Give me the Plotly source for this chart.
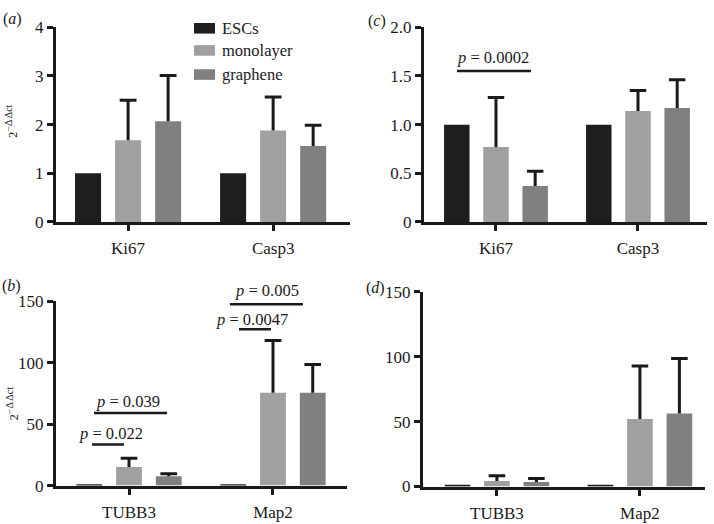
import plotly.graph_objects as go

W, H = 714, 524
FONT = "Liberation Serif"
INK = "#1a1a1a"

series_names = ["ESCs", "monolayer", "graphene"]
colors = ["#1e1e1e", "#a0a0a0", "#808080"]

cats_top = ["Ki67", "Casp3"]
cats_bottom = ["TUBB3", "Map2"]

# panel (a)
a_esc = [1.0, 1.0]
a_mono = [1.68, 1.88]
a_graph = [2.07, 1.56]
a_mono_err = [0.82, 0.69]
a_graph_err = [0.94, 0.43]

# panel (c)
c_esc = [1.0, 1.0]
c_mono = [0.77, 1.14]
c_graph = [0.37, 1.17]
c_mono_err = [0.51, 0.21]
c_graph_err = [0.15, 0.29]

# panel (b)
b_esc = [1.0, 1.0]
b_mono = [15.1, 75.6]
b_graph = [7.6, 75.6]
b_mono_err = [7.1, 42.4]
b_graph_err = [2.0, 23.0]

# panel (d)
d_esc = [1.0, 1.0]
d_mono = [4.2, 51.9]
d_graph = [3.5, 56.3]
d_mono_err = [4.2, 40.8]
d_graph_err = [2.7, 42.3]

BARGAP = 0.172
BARGROUPGAP = 0.35
SLOT = (1 - BARGAP) / 3.0
CAP = 0.058


def px(x):
    return x / W


def py(y):
    return 1 - y / H


fig = go.Figure()

panels = [
    ("", cats_top, [a_esc, a_mono, a_graph], [None, a_mono_err, a_graph_err]),
    ("2", cats_top, [c_esc, c_mono, c_graph], [None, c_mono_err, c_graph_err]),
    ("3", cats_bottom, [b_esc, b_mono, b_graph], [None, b_mono_err, b_graph_err]),
    ("4", cats_bottom, [d_esc, d_mono, d_graph], [None, d_mono_err, d_graph_err]),
]

for suf, cats, vals, errs in panels:
    idx = list(range(len(cats)))
    for i in range(3):
        fig.add_trace(go.Bar(
            x=idx, y=vals[i], name=series_names[i],
            marker=dict(color=colors[i], line=dict(width=0)),
            showlegend=False, xaxis="x" + suf, yaxis="y" + suf,
        ))
    # upper-only error bars with caps
    for i in range(3):
        if errs[i] is None:
            continue
        ex, ey = [], []
        for k in idx:
            xc = k + (i - 1) * SLOT
            top = vals[i][k] + errs[i][k]
            ex += [xc, xc, None, xc - CAP, xc + CAP, None]
            ey += [vals[i][k], top, None, top, top, None]
        fig.add_trace(go.Scatter(
            x=ex, y=ey, mode="lines", line=dict(color=INK, width=3),
            showlegend=False, hoverinfo="skip", xaxis="x" + suf, yaxis="y" + suf,
        ))

axis_common = dict(showline=True, linewidth=3, linecolor=INK,
                   ticks="outside", ticklen=6, tickwidth=2.5, tickcolor=INK,
                   showgrid=False, zeroline=False,
                   tickfont=dict(family=FONT, size=17, color=INK))
xaxis_extra = dict(ticklabelstandoff=3)


def xdom(l, r):
    return [px(l), px(r)]


def ydom(t, b):
    return [py(b), py(t)]


fig.update_layout(
    width=W, height=H,
    margin=dict(l=0, r=0, t=0, b=0),
    plot_bgcolor="white", paper_bgcolor="white",
    barmode="group", bargap=BARGAP, bargroupgap=BARGROUPGAP,
    font=dict(family=FONT, size=15, color=INK),
    xaxis=dict(domain=xdom(56, 350), range=[-0.497, 1.53], anchor="y",
               tickvals=[0, 1], ticktext=cats_top, **axis_common, **xaxis_extra),
    yaxis=dict(domain=ydom(19, 221), range=[0, 4], tickvals=[0, 1, 2, 3, 4],
               anchor="x", **axis_common),
    xaxis2=dict(domain=xdom(424, 707), range=[-0.507, 1.486], anchor="y2",
                tickvals=[0, 1], ticktext=cats_top, **axis_common, **xaxis_extra),
    yaxis2=dict(domain=ydom(19, 221), range=[0, 2], tickvals=[0, 0.5, 1, 1.5, 2],
                ticktext=["0", "0.5", "1.0", "1.5", "2.0"], anchor="x2", **axis_common),
    xaxis3=dict(domain=xdom(56, 347), range=[-0.507, 1.514], anchor="y3",
                tickvals=[0, 1], ticktext=cats_bottom, **axis_common, **xaxis_extra),
    yaxis3=dict(domain=ydom(303.3, 494.5), range=[0, 150], tickvals=[0, 50, 100, 150],
                anchor="x3", **axis_common),
    xaxis4=dict(domain=xdom(423, 705), range=[-0.517, 1.455], anchor="y4",
                tickvals=[0, 1], ticktext=cats_bottom, **axis_common, **xaxis_extra),
    yaxis4=dict(domain=ydom(293.3, 495.5), range=[0, 150], tickvals=[0, 50, 100, 150],
                anchor="x4", **axis_common),
)

shapes = []
annotations = []

# legend (drawn manually to match the boxed swatches)
leg_y = [20, 43, 68]
for i, name in enumerate(series_names):
    shapes.append(dict(type="rect", xref="paper", yref="paper",
                       x0=px(194), x1=px(215), y0=py(leg_y[i] + 5.5), y1=py(leg_y[i] - 5.5),
                       fillcolor=colors[i], line=dict(width=0)))
    annotations.append(dict(xref="paper", yref="paper", x=px(220), y=py(leg_y[i]),
                            text=name, showarrow=False, xanchor="left", yanchor="middle",
                            font=dict(family=FONT, size=16.5, color=INK)))

# significance lines (data coords) and their labels (pixel positions)
sig_lines = [
    ("x2", "y2", -0.275, 0.246, 1.55),
    ("x3", "y3", -0.257, -0.035, 33.4),
    ("x3", "y3", -0.243, 0.264, 59),
    ("x3", "y3", 0.764, 0.986, 127.3),
    ("x3", "y3", 0.701, 1.208, 147.6),
]
for xr, yr, x0, x1, yv in sig_lines:
    shapes.append(dict(type="line", xref=xr, yref=yr, x0=x0, x1=x1, y0=yv, y1=yv,
                       line=dict(color=INK, width=2.5)))

sig_texts = [
    ("<i>p</i> = 0.0002", 492.5, 50),
    ("<i>p</i> = 0.022", 111, 440),
    ("<i>p</i> = 0.039", 128, 407),
    ("<i>p</i> = 0.0047", 252, 322),
    ("<i>p</i> = 0.005", 266.5, 292),
]
for txt, x, y in sig_texts:
    annotations.append(dict(xref="paper", yref="paper", x=px(x), y=py(y), text=txt,
                            showarrow=False, xanchor="center", yanchor="middle",
                            font=dict(family=FONT, size=16.5, color=INK)))

# panel labels
for txt, x, y in [("(<i>a</i>)", 1, 10), ("(<i>c</i>)", 366, 12),
                  ("(<i>b</i>)", 0, 287), ("(<i>d</i>)", 364, 290)]:
    annotations.append(dict(xref="paper", yref="paper", x=px(x), y=py(y), text=txt,
                            showarrow=False, xanchor="left", yanchor="middle",
                            font=dict(family=FONT, size=16, color=INK)))

# y-axis titles
for y in [117, 410]:
    annotations.append(dict(xref="paper", yref="paper", x=px(12), y=py(y),
                            text="2<sup><span style='font-size:10px'>−Δ Δct</span></sup>",
                            showarrow=False, textangle=-90,
                            xanchor="center", yanchor="middle",
                            font=dict(family=FONT, size=12, color=INK)))

fig.update_layout(shapes=shapes, annotations=annotations)

fig.write_html("out.html", config={"displayModeBar": False},
               post_script="document.body.style.margin='0';document.body.style.padding='0';")
